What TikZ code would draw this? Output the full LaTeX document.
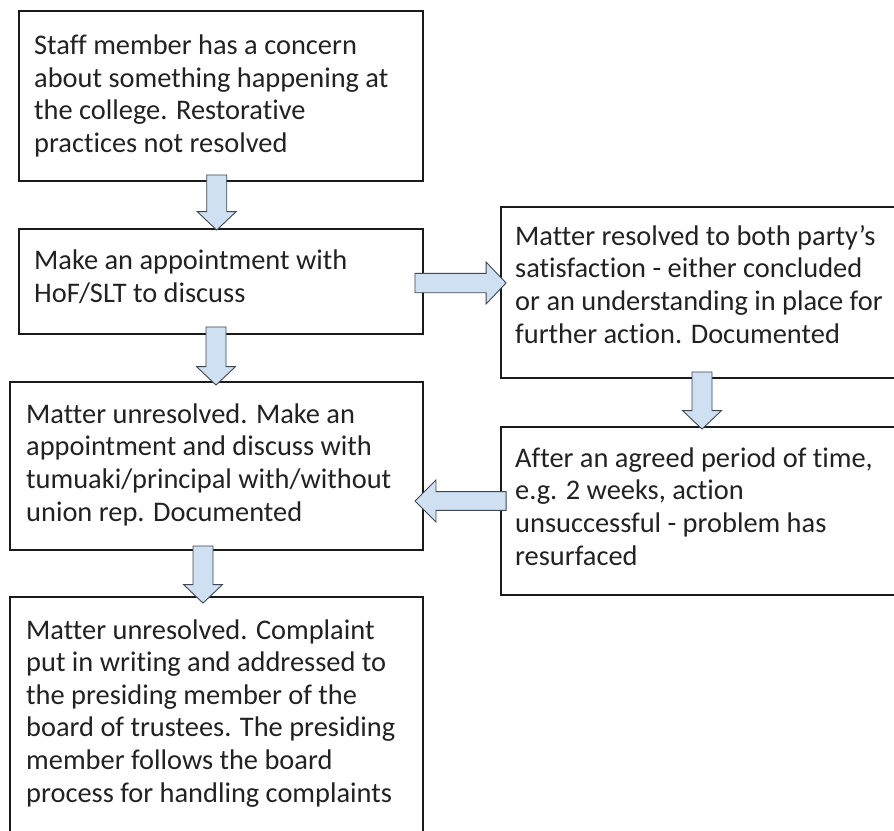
\documentclass[tikz,border=0pt]{standalone}
\usepackage{fontspec}
\setmainfont[Ligatures={NoCommon}]{Carlito}
\usetikzlibrary{calc}
\definecolor{boxline}{HTML}{1A1A1A}
\definecolor{txt}{HTML}{222222}
\definecolor{arrfill}{HTML}{CFE0F2}
\definecolor{arrline}{HTML}{3E4852}
\tikzset{
  stepbox/.style={draw=boxline, line width=1.9pt, rectangle, inner sep=0pt},
  steptext/.style={anchor=base west, inner sep=0pt, text=txt, align=left,
     font=\fontsize{28.4}{32.6}\selectfont},
  barrow/.style={draw=arrline, fill=arrfill, line width=0.9pt, line join=miter}
}
% vertical block arrow: #1 top of shaft, #2 tip (only its y is used)
\newcommand\arrdown[2]{\path[barrow] let \p1=(#1), \p2=(#2) in
  (\x1-10pt,\y1) -- (\x1+10pt,\y1) -- (\x1+10pt,\y2+18.5pt) -- (\x1+19.5pt,\y2+18.5pt)
  -- (\x1,\y2) -- (\x1-19.5pt,\y2+18.5pt) -- (\x1-10pt,\y2+18.5pt) -- cycle;}
% horizontal block arrow to the right: #1 tail, #2 tip (only its x is used)
\newcommand\arrright[2]{\path[barrow] let \p1=(#1), \p2=(#2) in
  (\x1,\y1+9.7pt) -- (\x2-20pt,\y1+9.7pt) -- (\x2-20pt,\y1+21pt) -- (\x2,\y1)
  -- (\x2-20pt,\y1-21pt) -- (\x2-20pt,\y1-9.7pt) -- (\x1,\y1-9.7pt) -- cycle;}
% horizontal block arrow to the left
\newcommand\arrleft[2]{\path[barrow] let \p1=(#1), \p2=(#2) in
  (\x1,\y1+9.4pt) -- (\x2+21pt,\y1+9.4pt) -- (\x2+21pt,\y1+21pt) -- (\x2,\y1)
  -- (\x2+21pt,\y1-21pt) -- (\x2+21pt,\y1-9.4pt) -- (\x1,\y1-9.4pt) -- cycle;}
\begin{document}
\begin{tikzpicture}[x=1pt, y=-1pt]
\useasboundingbox (0,0) rectangle (894,830);
\fill[white] (0,0) rectangle (894,830);
\clip (0,0) rectangle (894,830);

% boxes
\node[stepbox, minimum width=404pt, minimum height=170pt] (b1) at (221,96) {};
\node[stepbox, minimum width=404pt, minimum height=105pt] (b2) at (221,281.5) {};
\node[stepbox, minimum width=413pt, minimum height=168pt] (b3) at (216.5,466) {};
\node[stepbox, minimum width=413pt, minimum height=248pt] (b5) at (216.5,721) {};
\node[stepbox, minimum width=404pt, minimum height=171pt] (r1) at (703,292.5) {};
\node[stepbox, minimum width=404pt, minimum height=168pt] (r2) at (703,511) {};

% texts (anchor = baseline of the last line)
\node[steptext] (t1) at (34,152.5) {Staff member has a concern\\about something happening at\\the college. Restorative\\practices not resolved};
\node[steptext] (t2) at (34,302.5) {Make an appointment with\\HoF/SLT to discuss};
\node[steptext] (t3) at (26,521) {Matter unresolved. Make an\\appointment and discuss with\\tumuaki/principal with/without\\union rep. Documented};
\node[steptext] (t5) at (26,802) {Matter unresolved. Complaint\\put in writing and addressed to\\the presiding member of the\\board of trustees. The presiding\\member follows the board\\process for handling complaints};
\node[steptext] (tr1) at (515,343) {Matter resolved to both party’s\\satisfaction - either concluded\\or an understanding in place for\\further action. Documented};
\node[steptext] (tr2) at (515,565) {After an agreed period of time,\\e.g. 2 weeks, action\\unsuccessful - problem has\\resurfaced};

% block arrows
\arrdown{[xshift=-4.3pt,yshift=7pt]b1.south}{[yshift=-2pt]b2.north}
\arrdown{[xshift=-5pt,yshift=8pt]b2.south}{[yshift=-4pt]b3.north}
\arrdown{[xshift=-13.5pt,yshift=5pt]b3.south}{[yshift=-7pt]b5.north}
\arrdown{[xshift=-1pt,yshift=7pt]r1.south}{[yshift=-3pt]r2.north}
\arrright{[xshift=-9pt,yshift=-1.5pt]b2.east}{[xshift=6pt]r1.west}
\arrleft{[xshift=6pt,yshift=10pt]r2.west}{[xshift=-9pt]b3.east}
\end{tikzpicture}
\end{document}
